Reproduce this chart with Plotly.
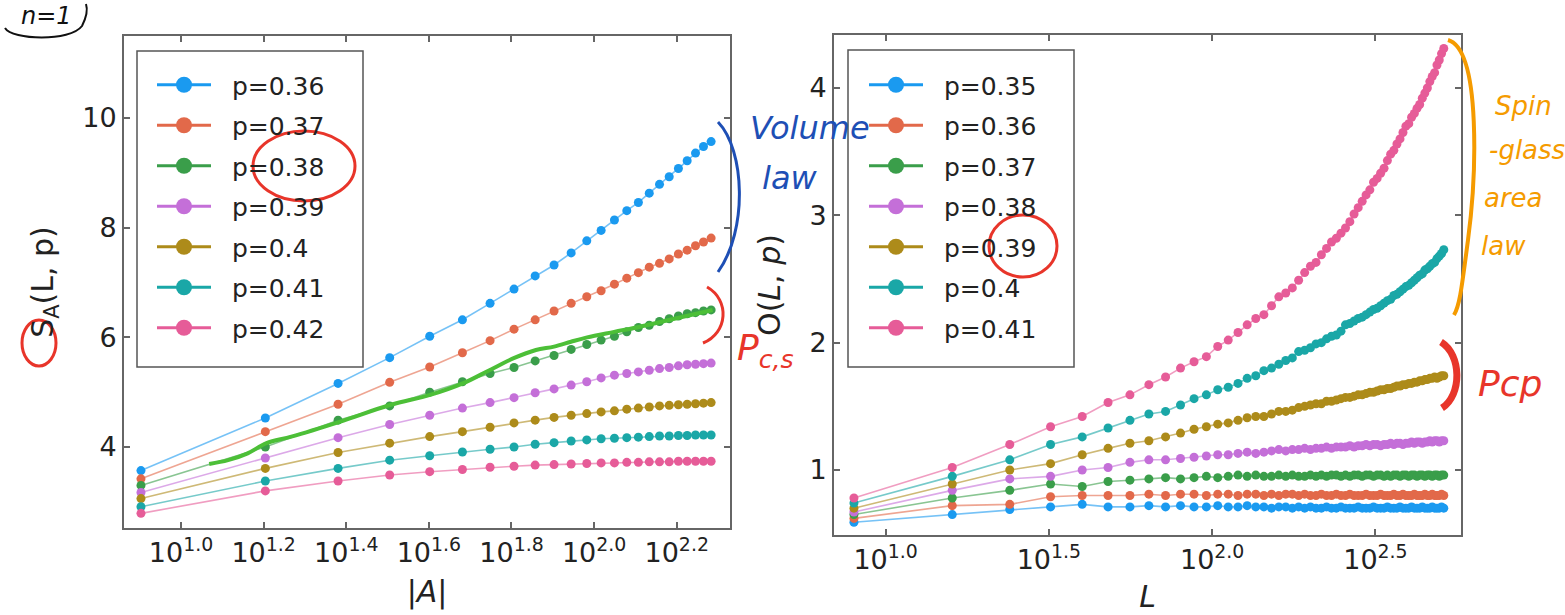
import plotly.graph_objects as go

W, H = 1565, 615

# ---------------- data: left panel  S_A(L, p) vs |A| ----------------
subsystem_sizes = [8, 16, 24, 32, 40, 48, 56, 64, 72, 80, 88, 96,
                   104, 112, 120, 128, 136, 144, 152, 160, 168, 176, 184, 192]
left_labels = ["p=0.36", "p=0.37", "p=0.38", "p=0.39", "p=0.4", "p=0.41", "p=0.42"]
S_p036 = [3.57, 4.53, 5.16, 5.63, 6.02, 6.32, 6.62, 6.88, 7.12, 7.32, 7.54, 7.76,
          7.95, 8.14, 8.31, 8.46, 8.63, 8.79, 8.93, 9.08, 9.22, 9.36, 9.48, 9.57]
S_p037 = [3.42, 4.28, 4.78, 5.18, 5.46, 5.72, 5.94, 6.15, 6.32, 6.48, 6.62, 6.74,
          6.85, 6.97, 7.08, 7.18, 7.28, 7.35, 7.43, 7.52, 7.59, 7.67, 7.74, 7.81]
S_p038 = [3.30, 4.00, 4.49, 4.75, 5.00, 5.19, 5.34, 5.45, 5.57, 5.67, 5.78, 5.87,
          5.95, 6.02, 6.10, 6.18, 6.22, 6.29, 6.34, 6.39, 6.43, 6.45, 6.48, 6.50]
S_p039 = [3.17, 3.80, 4.17, 4.41, 4.58, 4.71, 4.81, 4.90, 4.99, 5.06, 5.13, 5.19,
          5.26, 5.31, 5.34, 5.37, 5.40, 5.43, 5.45, 5.48, 5.50, 5.51, 5.52, 5.53]
S_p040 = [3.06, 3.61, 3.90, 4.07, 4.19, 4.28, 4.36, 4.44, 4.49, 4.54, 4.58, 4.61,
          4.64, 4.66, 4.69, 4.71, 4.73, 4.75, 4.76, 4.77, 4.78, 4.79, 4.80, 4.81]
S_p041 = [2.91, 3.38, 3.61, 3.76, 3.84, 3.91, 3.96, 4.00, 4.05, 4.08, 4.11, 4.13,
          4.15, 4.16, 4.17, 4.18, 4.19, 4.20, 4.20, 4.21, 4.21, 4.22, 4.22, 4.22]
S_p042 = [2.79, 3.20, 3.38, 3.49, 3.55, 3.59, 3.63, 3.65, 3.67, 3.68, 3.69, 3.70,
          3.71, 3.71, 3.72, 3.72, 3.73, 3.73, 3.73, 3.74, 3.74, 3.74, 3.74, 3.74]
left_series = [S_p036, S_p037, S_p038, S_p039, S_p040, S_p041, S_p042]

# hand-drawn green stroke over p=0.38 (annotation, data coordinates)
stroke_A = [11.7, 13.0, 14.5, 16.1, 18.5, 24.2, 32.2, 40.1, 48.1, 55.8, 63.9, 72.3,
            80.0, 87.9, 96.2, 111.8, 128.5, 152.7, 193.6]
stroke_S = [3.69, 3.76, 3.885, 4.07, 4.19, 4.46, 4.77, 4.95, 5.16, 5.40, 5.62, 5.77,
            5.83, 5.92, 6.00, 6.10, 6.19, 6.32, 6.50]

# ---------------- data: right panel  O(L, p) vs L ----------------
chain_lengths = list(range(8, 513, 8))
right_labels = ["p=0.35", "p=0.36", "p=0.37", "p=0.38", "p=0.39", "p=0.4", "p=0.41"]
O_p035 = [0.59, 0.65, 0.69, 0.71, 0.73, 0.71, 0.71, 0.72, 0.71, 0.72, 0.71, 0.71,
          0.72, 0.71, 0.71, 0.72, 0.71, 0.71, 0.70, 0.71, 0.71, 0.70, 0.71, 0.70,
          0.71, 0.70, 0.70, 0.71, 0.70, 0.70, 0.71, 0.70, 0.70, 0.70, 0.71, 0.70,
          0.70, 0.70, 0.71, 0.70, 0.70, 0.70, 0.71, 0.70, 0.70, 0.70, 0.71, 0.70,
          0.70, 0.70, 0.71, 0.70, 0.70, 0.70, 0.71, 0.70, 0.70, 0.70, 0.71, 0.70,
          0.70, 0.70, 0.71, 0.70]
O_p036 = [0.62, 0.72, 0.73, 0.79, 0.80, 0.80, 0.80, 0.81, 0.80, 0.81, 0.81, 0.80,
          0.81, 0.81, 0.80, 0.81, 0.81, 0.80, 0.81, 0.80, 0.81, 0.81, 0.80, 0.81,
          0.80, 0.80, 0.81, 0.80, 0.80, 0.81, 0.80, 0.80, 0.81, 0.80, 0.80, 0.80,
          0.81, 0.80, 0.80, 0.80, 0.81, 0.80, 0.80, 0.80, 0.81, 0.80, 0.80, 0.81,
          0.80, 0.80, 0.80, 0.81, 0.80, 0.80, 0.80, 0.81, 0.80, 0.80, 0.81, 0.80,
          0.80, 0.80, 0.81, 0.80]
O_p037 = [0.65, 0.78, 0.84, 0.89, 0.87, 0.91, 0.92, 0.93, 0.94, 0.93, 0.94, 0.95,
          0.94, 0.95, 0.96, 0.95, 0.96, 0.95, 0.95, 0.96, 0.95, 0.96, 0.95, 0.95,
          0.96, 0.95, 0.96, 0.95, 0.96, 0.96, 0.95, 0.96, 0.95, 0.96, 0.96, 0.95,
          0.96, 0.96, 0.95, 0.96, 0.96, 0.95, 0.96, 0.95, 0.96, 0.96, 0.95, 0.96,
          0.96, 0.95, 0.96, 0.96, 0.95, 0.96, 0.96, 0.95, 0.96, 0.96, 0.95, 0.96,
          0.96, 0.95, 0.96, 0.96]
O_p038 = [0.67, 0.84, 0.93, 0.95, 1.00, 1.02, 1.06, 1.08, 1.08, 1.09, 1.10, 1.11,
          1.12, 1.12, 1.13, 1.14, 1.13, 1.14, 1.15, 1.16, 1.15, 1.16, 1.16, 1.17,
          1.16, 1.17, 1.17, 1.18, 1.17, 1.18, 1.18, 1.18, 1.19, 1.18, 1.19, 1.19,
          1.20, 1.19, 1.20, 1.20, 1.19, 1.20, 1.20, 1.21, 1.20, 1.21, 1.21, 1.20,
          1.21, 1.21, 1.22, 1.21, 1.22, 1.22, 1.21, 1.22, 1.22, 1.23, 1.22, 1.23,
          1.23, 1.22, 1.23, 1.23]
O_p039 = [0.70, 0.89, 1.00, 1.05, 1.12, 1.17, 1.21, 1.23, 1.26, 1.29, 1.32, 1.34,
          1.36, 1.37, 1.39, 1.41, 1.42, 1.42, 1.44, 1.46, 1.46, 1.47, 1.49, 1.50,
          1.51, 1.52, 1.52, 1.54, 1.54, 1.55, 1.56, 1.57, 1.57, 1.58, 1.59, 1.59,
          1.60, 1.61, 1.61, 1.62, 1.63, 1.63, 1.64, 1.64, 1.65, 1.66, 1.66, 1.67,
          1.67, 1.68, 1.68, 1.69, 1.69, 1.70, 1.70, 1.71, 1.71, 1.72, 1.72, 1.73,
          1.72, 1.73, 1.74, 1.74]
O_p040 = [0.74, 0.95, 1.08, 1.20, 1.26, 1.33, 1.39, 1.44, 1.46, 1.51, 1.56, 1.59,
          1.63, 1.65, 1.68, 1.72, 1.74, 1.78, 1.80, 1.83, 1.86, 1.88, 1.93, 1.94,
          1.96, 1.99, 2.00, 2.03, 2.05, 2.06, 2.09, 2.14, 2.15, 2.17, 2.19, 2.20,
          2.22, 2.24, 2.26, 2.27, 2.29, 2.31, 2.33, 2.34, 2.37, 2.38, 2.40, 2.42,
          2.44, 2.45, 2.47, 2.49, 2.51, 2.53, 2.54, 2.57, 2.58, 2.60, 2.62, 2.63,
          2.66, 2.68, 2.70, 2.73]
O_p041 = [0.78, 1.02, 1.20, 1.34, 1.42, 1.53, 1.59, 1.67, 1.73, 1.80, 1.85, 1.89,
          1.97, 2.02, 2.08, 2.14, 2.19, 2.22, 2.29, 2.36, 2.39, 2.43, 2.49, 2.55,
          2.60, 2.63, 2.69, 2.74, 2.79, 2.82, 2.86, 2.90, 2.95, 3.01, 3.06, 3.11,
          3.16, 3.20, 3.26, 3.29, 3.33, 3.37, 3.43, 3.48, 3.51, 3.56, 3.60, 3.65,
          3.70, 3.72, 3.77, 3.80, 3.84, 3.87, 3.92, 3.96, 4.00, 4.05, 4.09, 4.12,
          4.18, 4.22, 4.27, 4.31]
right_series = [O_p035, O_p036, O_p037, O_p038, O_p039, O_p040, O_p041]

left_xticks = [1.0, 1.2, 1.4, 1.6, 1.8, 2.0, 2.2]
right_xticks = [1.0, 1.5, 2.0, 2.5]
left_yticks = [4, 6, 8, 10]
right_yticks = [1, 2, 3, 4]

palette = ["#1a9af0", "#e2694a", "#3a9e4a", "#c46fd8", "#ad8b1a", "#1aa7a7", "#e65c98"]

PAD = "\u00a0\u00a0"  # gap between legend symbol and label


def rgba(hexc, a):
    h = hexc.lstrip("#")
    return "rgba(%d,%d,%d,%.2f)" % (int(h[0:2], 16), int(h[2:4], 16), int(h[4:6], 16), a)


def px(x, y):
    return x / W, 1 - y / H


def path_px(pts):
    out = []
    x0, y0 = px(*pts[0])
    out.append("M%.5f,%.5f" % (x0, y0))
    rest = pts[1:]
    for i in range(0, len(rest), 3):
        grp = rest[i:i + 3]
        out.append("C" + " ".join("%.5f,%.5f" % px(*p) for p in grp))
    return " ".join(out)


fig = go.Figure()

# left panel traces
for ys, name, col in zip(left_series, left_labels, palette):
    fig.add_trace(go.Scatter(
        x=subsystem_sizes, y=ys, mode="lines+markers", name=name,
        line=dict(color=rgba(col, 0.6), width=1.6),
        marker=dict(color=col, size=9), showlegend=False,
        xaxis="x", yaxis="y"))
for i, (name, col) in enumerate(zip(left_labels, palette)):
    fig.add_trace(go.Scatter(
        x=[None], y=[None], mode="lines+markers", name=PAD + name,
        line=dict(color=col, width=3), marker=dict(color=col, size=16),
        legend="legend", legendgroup="L%d" % i, xaxis="x", yaxis="y"))

# hand-drawn stroke
fig.add_trace(go.Scatter(
    x=stroke_A, y=stroke_S, mode="lines", line=dict(color="#4cbf37", width=4, shape="spline"),
    showlegend=False, hoverinfo="skip", xaxis="x", yaxis="y"))

# right panel traces
for ys, name, col in zip(right_series, right_labels, palette):
    fig.add_trace(go.Scatter(
        x=chain_lengths, y=ys, mode="lines+markers", name=name,
        line=dict(color=rgba(col, 0.6), width=1.6),
        marker=dict(color=col, size=9), showlegend=False,
        xaxis="x2", yaxis="y2"))
for i, (name, col) in enumerate(zip(right_labels, palette)):
    fig.add_trace(go.Scatter(
        x=[None], y=[None], mode="lines+markers", name=PAD + name,
        line=dict(color=col, width=3), marker=dict(color=col, size=16),
        legend="legend2", legendgroup="R%d" % i, xaxis="x2", yaxis="y2"))

axis_common = dict(showgrid=False, zeroline=False, showline=True, linecolor="#666666",
                   linewidth=2, mirror="ticks", ticks="inside", ticklen=6, tickwidth=1.5,
                   tickcolor="#666666", tickfont=dict(family="DejaVu Sans", size=27, color="#222222"))
title_font = dict(family="DejaVu Sans", size=30, color="#222222")
legend_font = dict(family="DejaVu Sans", size=25, color="#222222")

fig.update_layout(
    width=W, height=H, margin=dict(l=0, r=0, t=0, b=0),
    paper_bgcolor="white", plot_bgcolor="white", showlegend=True,
    xaxis=dict(axis_common, type="log", domain=[124 / W, 730 / W], anchor="y",
               range=[0.862, 2.329],
               tickvals=[10 ** t for t in left_xticks],
               ticktext=["10<sup>%.1f</sup>" % t for t in left_xticks],
               title=dict(text="|<i>A</i>|", font=title_font, standoff=14)),
    yaxis=dict(axis_common, domain=[1 - 528 / H, 1 - 36 / H], anchor="x",
               range=[2.523, 11.496], tickvals=left_yticks,
               title=dict(text="S<sub>A</sub>(L, p)", font=title_font, standoff=20)),
    xaxis2=dict(axis_common, type="log", domain=[834 / W, 1461 / W], anchor="y2",
                range=[0.842, 2.762],
                tickvals=[10 ** t for t in right_xticks],
                ticktext=["10<sup>%.1f</sup>" % t for t in right_xticks],
                title=dict(text="<i>L</i>", font=title_font, standoff=12)),
    yaxis2=dict(axis_common, domain=[1 - 535 / H, 1 - 35 / H], anchor="x2",
                range=[0.4895, 4.416], tickvals=right_yticks,
                title=dict(text="O(<i>L</i>, <i>p</i>)", font=title_font, standoff=20)),
    legend=dict(x=152 / W, y=1 - 62 / H, xanchor="left", yanchor="top",
                bgcolor="rgba(0,0,0,0)", borderwidth=0, itemwidth=54,
                tracegroupgap=5, font=legend_font),
    legend2=dict(x=864 / W, y=1 - 62 / H, xanchor="left", yanchor="top",
                 bgcolor="rgba(0,0,0,0)", borderwidth=0, itemwidth=54,
                 tracegroupgap=5, font=legend_font),
)

shapes = []
# legend frames
for (x0, y0, x1, y1) in [(137, 51, 363, 367), (848, 50, 1074, 367)]:
    a = px(x0, y0); b = px(x1, y1)
    shapes.append(dict(type="rect", xref="paper", yref="paper", x0=a[0], y0=b[1], x1=b[0], y1=a[1],
                       line=dict(color="#555555", width=1.5), fillcolor="white", layer="below"))


def ellipse(cx, cy, rx, ry, color, width=3):
    a = px(cx - rx, cy - ry); b = px(cx + rx, cy + ry)
    return dict(type="circle", xref="paper", yref="paper", x0=a[0], y0=b[1], x1=b[0], y1=a[1],
                line=dict(color=color, width=width))


red = "#e8352a"
blue = "#1e4fb5"
orange = "#f59b00"
shapes.append(ellipse(304, 166, 51, 35, red))
shapes.append(ellipse(1023, 246, 34, 31, red))
shapes.append(ellipse(39, 343, 17, 23, red))


def stroke(pts, color, width=3):
    return dict(type="path", xref="paper", yref="paper", path=path_px(pts),
                line=dict(color=color, width=width))


# blue bracket (volume law)
shapes.append(stroke([(718, 122), (745, 150), (748, 230), (718, 272)], blue, 3))
# red bracket (pc,s)
shapes.append(stroke([(707, 287), (730, 300), (728, 333), (703, 343)], red, 3))
# orange bracket (spin-glass area law)
shapes.append(stroke([(1448, 40), (1482, 50), (1476, 180), (1468, 240),
                      (1462, 285), (1460, 305), (1454, 315)], orange, 4))
# red thick bracket (pcp)
shapes.append(stroke([(1441, 342), (1462, 355), (1462, 395), (1442, 408)], red, 7))
# underline of n=1
shapes.append(stroke([(5, 28), (12, 40), (70, 42), (82, 26), (86, 18), (88, 10), (86, 4)], "#111111", 2))

fig.update_layout(shapes=shapes)

hand = "DejaVu Sans"
notes = [
    ("n=1", 46, 16, 24, "#111111"),
    ("Volume", 810, 128, 32, blue),
    ("law", 790, 178, 32, blue),
    ("P<sub>c,s</sub>", 765, 350, 36, red),
    ("Spin", 1523, 106, 26, orange),
    ("-glass", 1527, 150, 26, orange),
    ("area", 1513, 198, 26, orange),
    ("law", 1503, 246, 26, orange),
    ("Pcp", 1510, 383, 36, red),
]
anns = []
for txt, x, y, size, col in notes:
    a = px(x, y)
    anns.append(dict(text=txt, x=a[0], y=a[1], xref="paper", yref="paper", showarrow=False,
                     xanchor="center", yanchor="middle",
                     font=dict(family=hand, size=size, color=col, style="italic")))
fig.update_layout(annotations=anns)

fig.write_html("out.html")
